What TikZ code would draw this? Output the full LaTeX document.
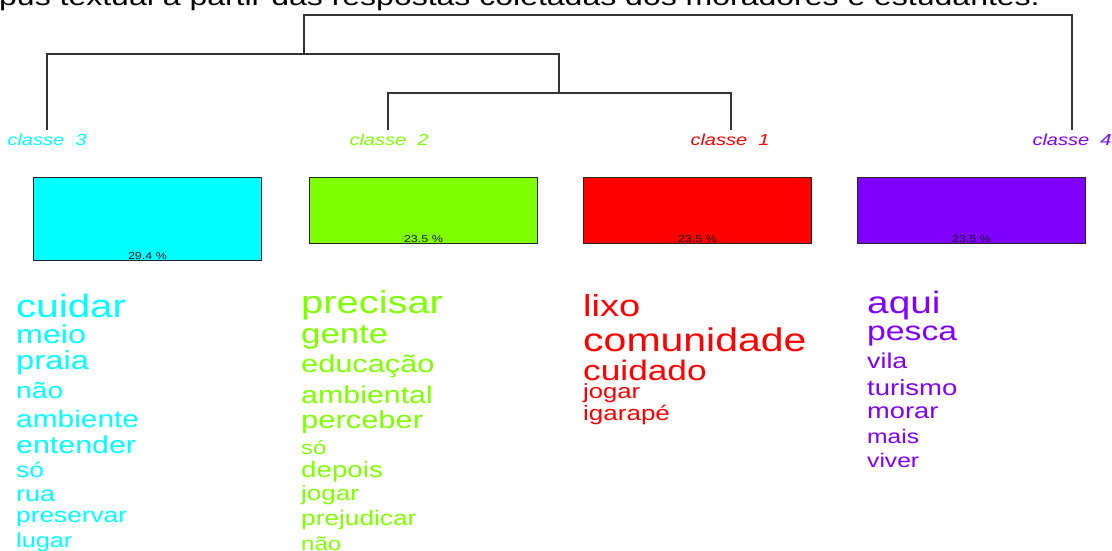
\documentclass[tikz,border=0pt]{standalone}
\usepackage{fontspec}
\setmainfont{Liberation Sans}[FakeStretch=1.25]
\usepackage{tikz}
\usetikzlibrary{positioning}
\definecolor{cthree}{HTML}{00FFFF}
\definecolor{ctwo}{HTML}{80FF00}
\definecolor{cone}{HTML}{FF0000}
\definecolor{cfour}{HTML}{8000FF}
\newcommand{\sz}[1]{\fontsize{#1}{#1}\selectfont}
\tikzset{
  tree/.style={line width=1.3pt, black!80},
  classlabel/.style={anchor=base, inner sep=0pt, font=\sz{16}\itshape},
  bar/.style={draw=black!85, line width=1pt, anchor=north west, inner sep=0pt, minimum width=228pt},
  pct/.style={anchor=south, inner sep=1.5pt, font=\sz{10}, black!90},
  word/.style={anchor=base west, inner sep=0pt}
}
\begin{document}
\begin{tikzpicture}[x=1pt, y=-1pt]
		\useasboundingbox (0,0) rectangle (1112,551);
		\clip (0,0) rectangle (1112,551);
		\node[anchor=base west, inner sep=0pt, font=\sz{25.6}] (title) at (-1, 6) {pus textual a partir das respostas coletadas dos moradores e estudantes.};

		\node[classlabel, cthree] (cl3) at (47, 145) {classe\ \ 3};
		\node[classlabel, ctwo] (cl2) at (389, 145) {classe\ \ 2};
		\node[classlabel, cone] (cl1) at (730, 145) {classe\ \ 1};
		\node[classlabel, cfour] (cl4) at (1072, 145) {classe\ \ 4};

		\coordinate (l3) at (47, 130);
		\coordinate (l2) at (388, 130);
		\coordinate (l1) at (731, 130);
		\coordinate (l4) at (1072, 130);
		\coordinate (m21) at (559, 93);
		\coordinate (m321) at (304, 54);
		\coordinate (mall) at (688, 15);
		\draw[tree] (l2) |- (m21) -| (l1);
		\draw[tree] (l3) |- (m321) -| (m21);
		\draw[tree] (m321) |- (mall) -| (l4);

		\node[bar, fill=cthree, minimum height=83pt] (b3) at (33, 177) {};
		\node[bar, fill=ctwo, minimum height=66pt] (b2) at (309, 177) {};
		\node[bar, fill=cone, minimum height=66pt] (b1) at (583, 177) {};
		\node[bar, fill=cfour, minimum height=66pt] (b4) at (857, 177) {};
		\node[pct] (p3) at (b3.south) {29.4 \%};
		\node[pct] (p2) at (b2.south) {23.5 \%};
		\node[pct] (p1) at (b1.south) {23.5 \%};
		\node[pct] (p4) at (b4.south) {23.5 \%};

		\node[word, cthree, font=\sz{32.3}] (w3a) at (16, 317) {cuidar};
		\node[word, cthree, font=\sz{25.8}] (w3b) at (16, 343) {meio};
		\node[word, cthree, font=\sz{26.2}] (w3c) at (16, 369) {praia};
		\node[word, cthree, font=\sz{22.6}] (w3d) at (16, 398) {não};
		\node[word, cthree, font=\sz{23.9}] (w3e) at (16, 427) {ambiente};
		\node[word, cthree, font=\sz{24.3}] (w3f) at (16, 453) {entender};
		\node[word, cthree, font=\sz{21.2}] (w3g) at (16, 477) {só};
		\node[word, cthree, font=\sz{21.6}] (w3h) at (16, 501) {rua};
		\node[word, cthree, font=\sz{21}] (w3i) at (16, 522) {preservar};
		\node[word, cthree, font=\sz{20.2}] (w3j) at (16, 547) {lugar};

		\node[word, ctwo, font=\sz{31.9}] (w2a) at (301, 313) {precisar};
		\node[word, ctwo, font=\sz{27.8}] (w2b) at (301, 343) {gente};
		\node[word, ctwo, font=\sz{24.6}] (w2c) at (301, 372) {educação};
		\node[word, ctwo, font=\sz{24.3}] (w2d) at (301, 403) {ambiental};
		\node[word, ctwo, font=\sz{24.7}] (w2e) at (301, 428) {perceber};
		\node[word, ctwo, font=\sz{19}] (w2f) at (301, 454) {só};
		\node[word, ctwo, font=\sz{22.2}] (w2g) at (301, 477) {depois};
		\node[word, ctwo, font=\sz{20.8}] (w2h) at (301, 500) {jogar};
		\node[word, ctwo, font=\sz{21}] (w2i) at (301, 525) {prejudicar};
		\node[word, ctwo, font=\sz{19.2}] (w2j) at (301, 550) {não};

		\node[word, cone, font=\sz{30.4}] (w1a) at (583, 316) {lixo};
		\node[word, cone, font=\sz{32.8}] (w1b) at (583, 351) {comunidade};
		\node[word, cone, font=\sz{28.2}] (w1c) at (583, 380) {cuidado};
		\node[word, cone, font=\sz{20.5}] (w1d) at (583, 398) {jogar};
		\node[word, cone, font=\sz{20.8}] (w1e) at (583, 420) {igarapé};

		\node[word, cfour, font=\sz{31}] (w4a) at (867, 313) {aqui};
		\node[word, cfour, font=\sz{27}] (w4b) at (867, 340) {pesca};
		\node[word, cfour, font=\sz{21.4}] (w4c) at (867, 368) {vila};
		\node[word, cfour, font=\sz{22}] (w4d) at (867, 395) {turismo};
		\node[word, cfour, font=\sz{21.8}] (w4e) at (867, 418) {morar};
		\node[word, cfour, font=\sz{19.7}] (w4f) at (867, 443) {mais};
		\node[word, cfour, font=\sz{19.7}] (w4g) at (867, 467) {viver};
\end{tikzpicture}
\end{document}
